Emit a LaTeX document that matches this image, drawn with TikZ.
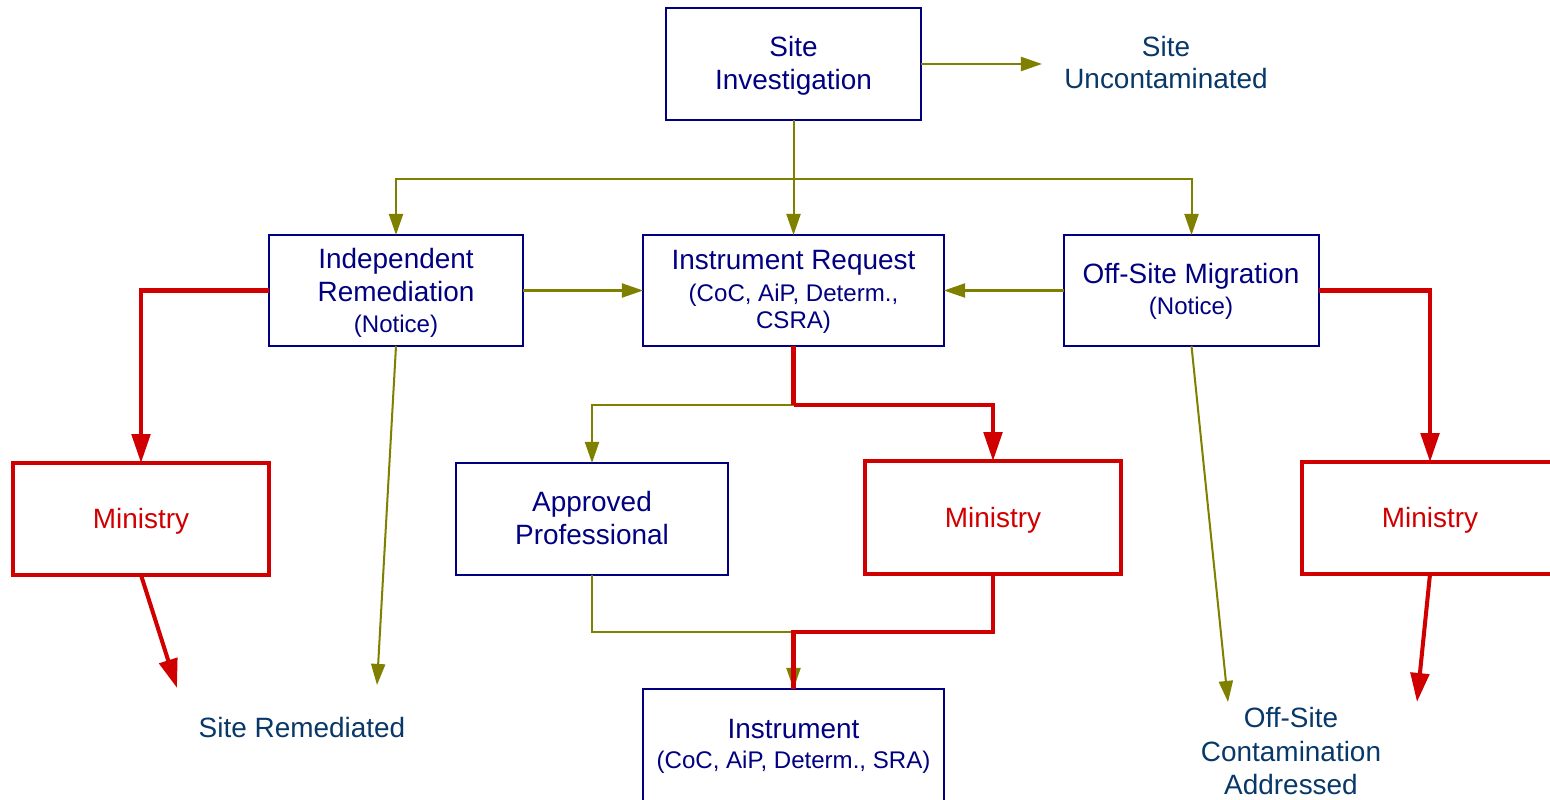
\documentclass[tikz,border=0pt]{standalone}
\usepackage{fontspec}
\setmainfont{Liberation Sans}
\usetikzlibrary{arrows.meta,fit}

\definecolor{boxnavy}{RGB}{0,0,128}
\definecolor{outtext}{RGB}{8,56,104}
\definecolor{flowolive}{RGB}{128,128,0}
\definecolor{flowred}{RGB}{208,0,0}

\tikzset{
  procbox/.style={draw=boxnavy, line width=1.15pt, inner sep=0pt, outer sep=0pt},
  minbox/.style={draw=flowred, line width=2.3pt, inner sep=0pt, outer sep=0pt},
  txt/.style={anchor=base, inner sep=0pt, outer sep=0pt,
    font=\fontsize{15.9}{19}\selectfont},
  bigtxt/.style={txt, text=boxnavy},
  smalltxt/.style={txt, text=boxnavy, font=\fontsize{13.7}{16}\selectfont},
  redtxt/.style={txt, text=flowred},
  endtxt/.style={txt, text=outtext},
  oliveline/.style={draw=flowolive, line width=1.15pt},
  olivearrow/.style={oliveline, -{Triangle[length=12pt,width=8pt]}},
  redline/.style={draw=flowred, line width=2.3pt},
  redarrow/.style={redline, -{Triangle[length=16.5pt,width=10.5pt]}},
}

\begin{document}
\begin{tikzpicture}[x=0.02cm, y=-0.02cm]
  \useasboundingbox (0,0) rectangle (1550,800);
  \clip (0,0) rectangle (1550,800);

  % process boxes
  \node[procbox, fit={(666,8) (921,120)}] (si) {};
  \node[procbox, fit={(269,235) (523,346)}] (ir) {};
  \node[procbox, fit={(643,235) (944,346)}] (req) {};
  \node[procbox, fit={(1064,235) (1319,346)}] (osm) {};
  \node[procbox, fit={(456,463) (728,575)}] (ap) {};
  \node[procbox, fit={(643,689) (944,830)}] (inst) {};

  % ministry boxes
  \node[minbox, fit={(13,463) (269,575)}] (min1) {};
  \node[minbox, fit={(865,461) (1121,574)}] (min2) {};
  \node[minbox, fit={(1302,462) (1558,574)}] (min3) {};

  % box labels
  \node[bigtxt] (si1) at (793.5,57) {Site};
  \node[bigtxt] (si2) at (793.5,90) {Investigation};
  \node[bigtxt] (ir1) at (396,269) {Independent};
  \node[bigtxt] (ir2) at (396,301) {Remediation};
  \node[smalltxt] (ir3) at (396,332) {(Notice)};
  \node[bigtxt] (req1) at (793.5,270) {Instrument Request};
  \node[smalltxt] (req2) at (793.5,301.5) {(CoC, AiP, Determ.,};
  \node[smalltxt] (req3) at (793.5,328.5) {CSRA)};
  \node[bigtxt] (osm1) at (1191,283) {Off-Site Migration};
  \node[smalltxt] (osm2) at (1191,315) {(Notice)};
  \node[bigtxt] (ap1) at (592,511) {Approved};
  \node[bigtxt] (ap2) at (592,544) {Professional};
  \node[bigtxt] (inst1) at (793.5,738) {Instrument};
  \node[smalltxt] (inst2) at (793.5,768) {(CoC, AiP, Determ., SRA)};
  \node[redtxt] (min1t) at (141,528) {Ministry};
  \node[redtxt] (min2t) at (993,527) {Ministry};
  \node[redtxt] (min3t) at (1430,527) {Ministry};

  % outcomes
  \node[endtxt] (su1) at (1166,57) {Site};
  \node[endtxt] (su2) at (1166,89) {Uncontaminated};
  \node[endtxt] (sr) at (302,737) {Site Remediated};
  \node[endtxt] (oc1) at (1291,727) {Off-Site};
  \node[endtxt] (oc2) at (1291,761) {Contamination};
  \node[endtxt] (oc3) at (1291,794) {Addressed};

  % junctions and free arrow ends
  \coordinate (j1) at (si.south |- 0,179);
  \coordinate (j2) at (req.south |- 0,405);
  \coordinate (j3) at (req.south |- 0,632);
  \coordinate (suend) at (1042,64);
  \coordinate (srend) at (377,685);
  \coordinate (min1end) at (177,688);
  \coordinate (ocend) at (1228,702);
  \coordinate (min3end) at (1417,702);

  % olive flows
  \draw[olivearrow] (si.east) -- (suend);
  \draw[oliveline] (si.south) -- (j1);
  \draw[olivearrow] (j1) -| (ir.north);
  \draw[olivearrow] (j1) -| (osm.north);
  \draw[olivearrow] (j1) -- (req.north);
  \draw[olivearrow] (ir.east) -- (req.west);
  \draw[olivearrow] (osm.west) -- (req.east);
  \draw[olivearrow] (ir.south) -- (srend);
  \draw[olivearrow] (j2) -| (ap.north);
  \draw[olivearrow] (ap.south) |- (j3) -- (inst.north);
  \draw[olivearrow] (osm.south) -- (ocend);

  % red flows
  \draw[redarrow] (ir.west) -| (min1.north);
  \draw[redarrow] (min1.south) -- (min1end);
  \draw[redline] (req.south) -- (j2);
  \draw[redarrow] (j2) -| (min2.north);
  \draw[redline] (min2.south) |- (j3) -- (inst.north);
  \draw[redarrow] (osm.east) -| (min3.north);
  \draw[redarrow] (min3.south) -- (min3end);
\end{tikzpicture}
\end{document}
